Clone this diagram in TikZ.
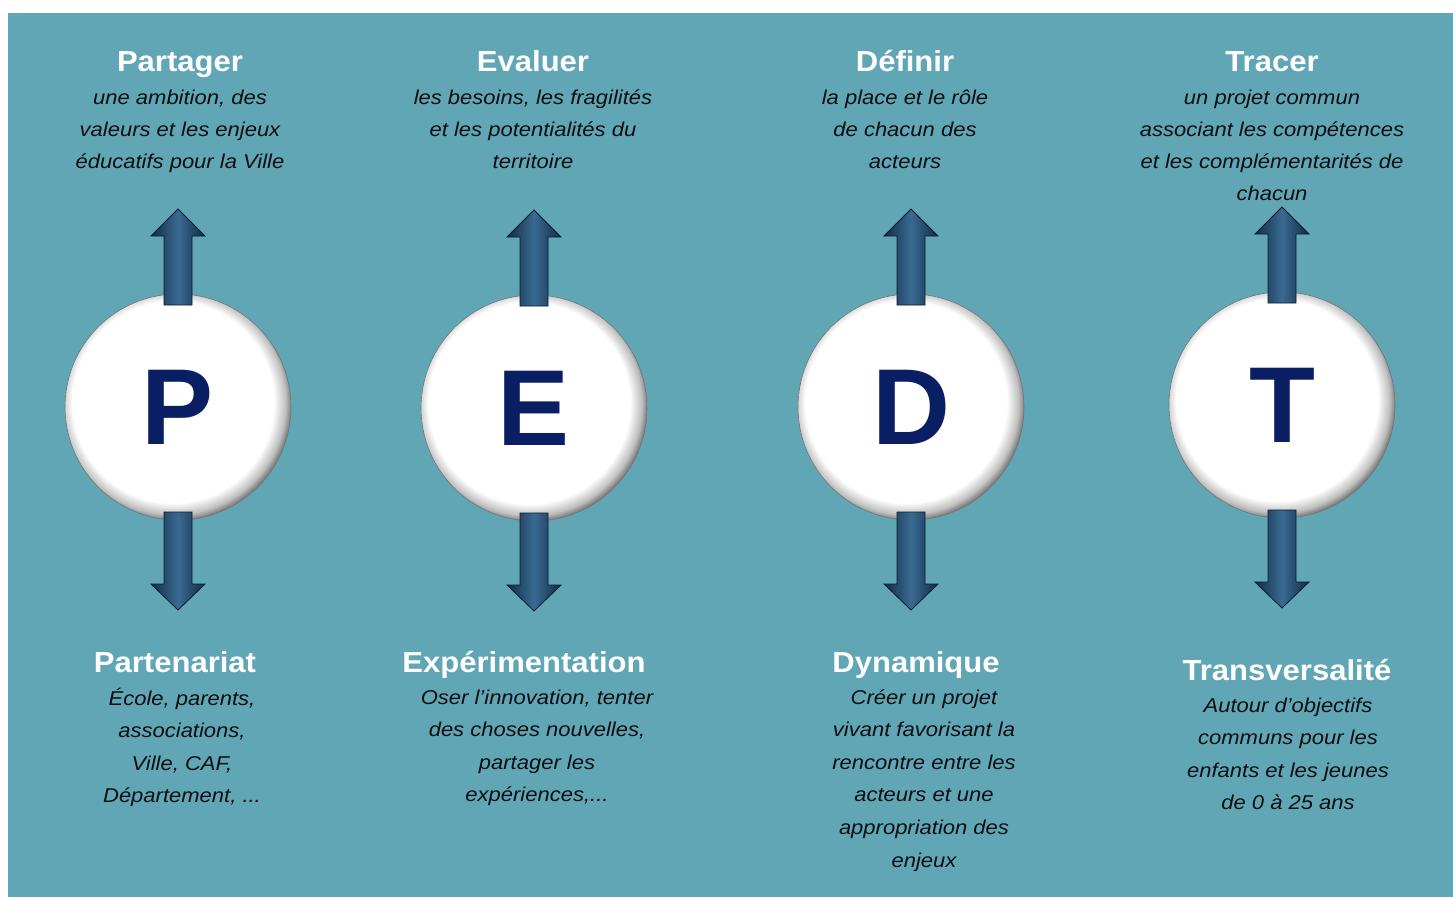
\documentclass[tikz,border=0pt]{standalone}
\usepackage{fontspec}
\setmainfont{Liberation Sans}
\newfontface\titlefont[FakeStretch=1.07]{Liberation Sans Bold}
\newfontface\bodyfont[FakeStretch=1.1]{Liberation Sans Italic}
\newfontface\letterfont{Liberation Sans Bold}
\usetikzlibrary{calc}
\definecolor{bgteal}{RGB}{97,166,181}
\definecolor{navy}{RGB}{10,30,100}
\definecolor{bodytxt}{RGB}{12,14,18}
\definecolor{arrdark}{RGB}{17,44,70}
\definecolor{arrlight}{RGB}{58,106,146}
\definecolor{arredge}{RGB}{12,28,44}
\newcommand\tdots{...}
\pgfdeclareradialshading{ballrim}{\pgfpoint{-2bp}{2bp}}{%
  color(0bp)=(white); color(22.3bp)=(white); color(24.8bp)=(black!25);
  color(26bp)=(black!50); color(50bp)=(black!50)}
\tikzset{
  ttl/.style={font=\titlefont\fontsize{29}{29}\selectfont, text=white, inner sep=0pt, anchor=base},
  bodyline/.style={font=\bodyfont\fontsize{20}{20}\selectfont, text=bodytxt, inner sep=0pt, anchor=base},
  ball/.style={circle, minimum size=226pt, inner sep=0pt, shading=ballrim, draw=black!55, line width=0.6pt,
    font=\letterfont\fontsize{108}{108}\selectfont, text=navy},
  blockarrow/.style={left color=arrdark, right color=arrdark, middle color=arrlight,
    draw=arredge, line width=0.8pt, line join=miter}
}
\newcommand\txtblock[5]{%
  \foreach \l [count=\i from 0] in {#5} {
    \node[bodyline] (#1-\i) at (#2, {#3+#4*\i}) {\l};
  }}
\newcommand\twoarrows[1]{%
  \begin{scope}[shift={(#1.center)}]
    \shade[blockarrow] (0,-198) -- (27,-171) -- (14,-171) -- (14,-102) -- (-14,-102) -- (-14,-171) -- (-27,-171) -- cycle;
    \shade[blockarrow] (0,203) -- (27,177) -- (14,177) -- (14,105) -- (-14,105) -- (-14,177) -- (-27,177) -- cycle;
  \end{scope}}
\begin{document}
\begin{tikzpicture}[x=1pt,y=-1pt]
\useasboundingbox (0,0) rectangle (1453,897);
\fill[white] (0,0) rectangle (1453,897);
\fill[bgteal] (8,13) rectangle (1453,897);

% circles
\node[ball] (P) at (178,407) {P};
\node[ball] (E) at (534,408) {E};
\node[ball] (D) at (911,407) {D};
\node[ball] (T) at (1282,405) {T};

% arrows
\twoarrows{P}
\twoarrows{E}
\twoarrows{D}
\twoarrows{T}

% top titles and texts
\node[ttl] (tP) at (180,71) {Partager};
\node[ttl] (tE) at (533,71) {Evaluer};
\node[ttl] (tD) at (905,71) {Définir};
\node[ttl] (tT) at (1272,71) {Tracer};
\txtblock{aP}{180}{104}{32}{{une ambition, des},{valeurs et les enjeux},{éducatifs pour la Ville}}
\txtblock{aE}{533}{104}{32}{{les besoins, les fragilités},{et les potentialités du},{territoire}}
\txtblock{aD}{905}{104}{32}{{la place et le rôle},{de chacun des},{acteurs}}
\txtblock{aT}{1272}{104}{32}{{un projet commun},{associant les compétences},{et les complémentarités de},{chacun}}

% bottom titles and texts
\node[ttl] (bP) at (175,672) {Partenariat};
\node[ttl] (bE) at (524,672) {Expérimentation};
\node[ttl] (bD) at (916,672) {Dynamique};
\node[ttl] (bT) at (1287,680) {Transversalité};
\txtblock{cP}{182}{705}{32.6}{{École, parents,},{associations,},{Ville, CAF,},{Département, \tdots}}
\txtblock{cE}{537}{704}{32.6}{{Oser l’innovation, tenter},{des choses nouvelles,},{partager les},{expériences,\tdots}}
\txtblock{cD}{924}{704}{32.6}{{Créer un projet},{vivant favorisant la},{rencontre entre les},{acteurs et une},{appropriation des},{enjeux}}
\txtblock{cT}{1288}{712}{32.6}{{Autour d’objectifs},{communs pour les},{enfants et les jeunes},{de 0 à 25 ans}}
\end{tikzpicture}
\end{document}
